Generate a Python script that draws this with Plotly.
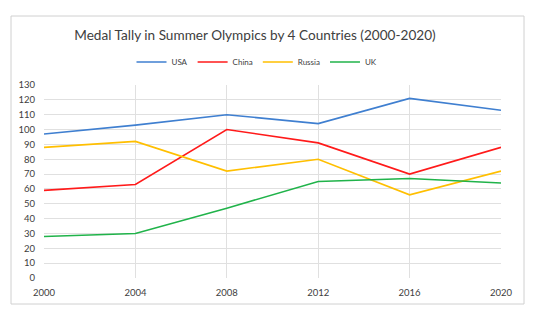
import plotly.graph_objects as go

years = [2000, 2004, 2008, 2012, 2016, 2020]
usa = [97, 103, 110, 104, 121, 113]
china = [59, 63, 100, 91, 70, 88]
russia = [88, 92, 72, 80, 56, 72]
uk = [28, 30, 47, 65, 67, 64]

series = [("USA", usa, "#3f7fd0"), ("China", china, "#ff1a1a"),
          ("Russia", russia, "#ffbf00"), ("UK", uk, "#20b34a")]

fig = go.Figure()
for name, vals, col in series:
    fig.add_trace(go.Scatter(x=years, y=vals, mode="lines", name=name,
                             line=dict(color=col, width=1.6)))

L, R, T, B = 44, 48, 85, 37
W, H = 549, 315
pw, ph = W - L - R, H - T - B

def px(x):
    return (x - L) / pw

def py(y):
    return (H - B - y) / ph

fig.add_shape(type="rect", xref="paper", yref="paper",
              x0=px(11), x1=px(524), y0=py(304), y1=py(16),
              line=dict(color="#d0d0d0", width=1), fillcolor="rgba(0,0,0,0)", layer="below")

fig.update_layout(
    width=W, height=H,
    margin=dict(l=L, r=R, t=T, b=B),
    paper_bgcolor="white", plot_bgcolor="white",
    font=dict(family="Lato", color="#595959", size=9),
    title=dict(text="Medal Tally in Summer Olympics by 4 Countries (2000-2020)",
               x=255 / W, xanchor="center", y=1 - 35 / H, yanchor="middle",
               font=dict(size=13.6, color="#404040", family="Lato")),
    legend=dict(orientation="h", x=px(257), xanchor="center", y=py(62), yanchor="middle",
                font=dict(size=8, color="#404040"), itemwidth=30, tracegroupgap=0,
                bgcolor="rgba(0,0,0,0)"),
    showlegend=True,
)
fig.update_xaxes(range=[2000, 2020], tickvals=years, showgrid=True, gridcolor="#e0e0e0",
                 gridwidth=1, zeroline=False, showline=False, ticks="",
                 ticklabelstandoff=7,
                 tickfont=dict(size=9.5, color="#404040"))
fig.update_yaxes(range=[0, 130], dtick=10, showgrid=True, gridcolor="#e0e0e0",
                 gridwidth=1, zeroline=False, showline=False, ticks="",
                 ticklabelstandoff=8,
                 tickfont=dict(size=9.5, color="#404040"))

fig.write_html("out.html")
